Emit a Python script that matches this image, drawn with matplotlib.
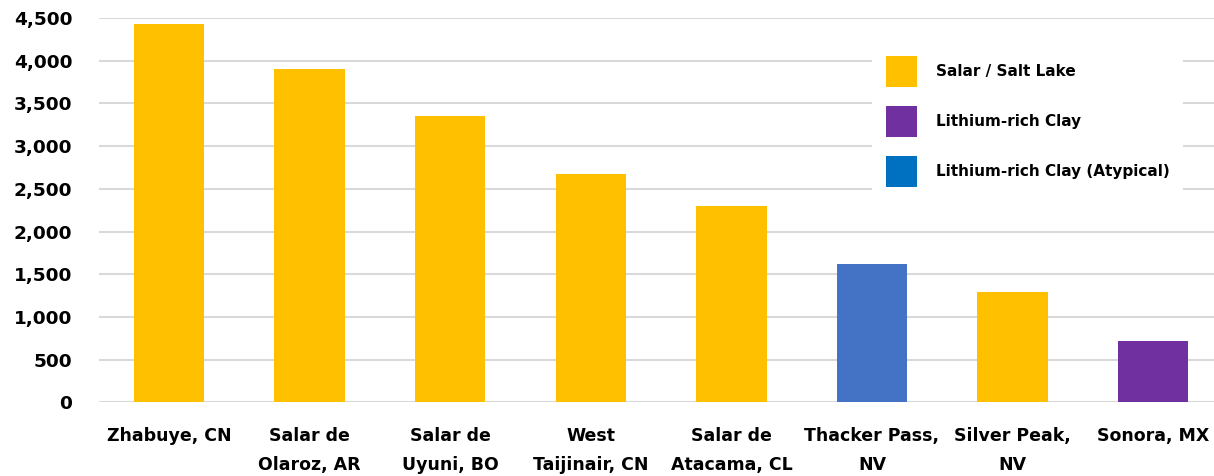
import matplotlib
matplotlib.use("Agg")
import matplotlib.pyplot as plt
from matplotlib.patches import Patch
from matplotlib.ticker import FuncFormatter

categories = ["Zhabuye, CN", "Salar de\nOlaroz, AR", "Salar de\nUyuni, BO", "West\nTaijinair, CN",
              "Salar de\nAtacama, CL", "Thacker Pass,\nNV", "Silver Peak,\nNV", "Sonora, MX"]
values = [4430, 3903, 3352, 2675, 2300, 1618, 1293, 720]
types = ["salar", "salar", "salar", "salar", "salar", "atypical", "salar", "clay"]
yticks = [0, 500, 1000, 1500, 2000, 2500, 3000, 3500, 4000, 4500]

bar_colors = {"salar": "#FFC000", "clay": "#7030A0", "atypical": "#4472C4"}
legend_labels = ["Salar / Salt Lake", "Lithium-rich Clay", "Lithium-rich Clay (Atypical)"]
legend_colors = ["#FFC000", "#7030A0", "#0070C0"]

W, H = 1214, 476
fig = plt.figure(figsize=(W / 100, H / 100), dpi=100)
left, right, top, bottom = 98.7, 1214, 18, 402.3
ax = fig.add_axes([left / W, (H - bottom) / H, (right - left) / W, (bottom - top) / H])

FONT = "DejaVu Sans"
fs = 12.5

x = list(range(len(categories)))
ax.bar(x, values, width=0.5, color=[bar_colors[t] for t in types], zorder=2)
ax.set_xlim(-0.5, (right - 169) / 140.6)
ax.set_ylim(0, 4500)
ax.set_yticks(yticks)
ax.yaxis.set_major_formatter(FuncFormatter(lambda v, p: f"{int(v):,}"))
ax.set_xticks(x)
ax.set_xticklabels(categories, fontfamily=FONT, fontweight="bold", fontsize=fs, linespacing=1.75)
for lab in ax.get_yticklabels():
    lab.set_fontfamily(FONT); lab.set_fontweight("bold"); lab.set_fontsize(fs + 0.8)
ax.tick_params(axis="both", length=0)
ax.tick_params(axis="y", pad=19)
ax.tick_params(axis="x", pad=18)
ax.grid(axis="y", color="#D9D9D9", linewidth=1.5, zorder=0)
ax.set_axisbelow(True)
for s in ax.spines.values():
    s.set_visible(False)

handles = [Patch(facecolor=c, edgecolor="none") for c in legend_colors]
leg = ax.legend(handles, legend_labels, loc="upper left",
                bbox_to_anchor=(872 / W, (H - 42) / H), bbox_transform=fig.transFigure,
                borderaxespad=0, frameon=True, fancybox=False, framealpha=1,
                edgecolor="white", facecolor="white",
                prop={"family": FONT, "weight": "bold", "size": 11},
                handlelength=2.03, handleheight=2.75, handletextpad=1.25,
                labelspacing=1.24, borderpad=0.9)
leg.get_frame().set_linewidth(0)

fig.savefig("out.png", dpi=100)
